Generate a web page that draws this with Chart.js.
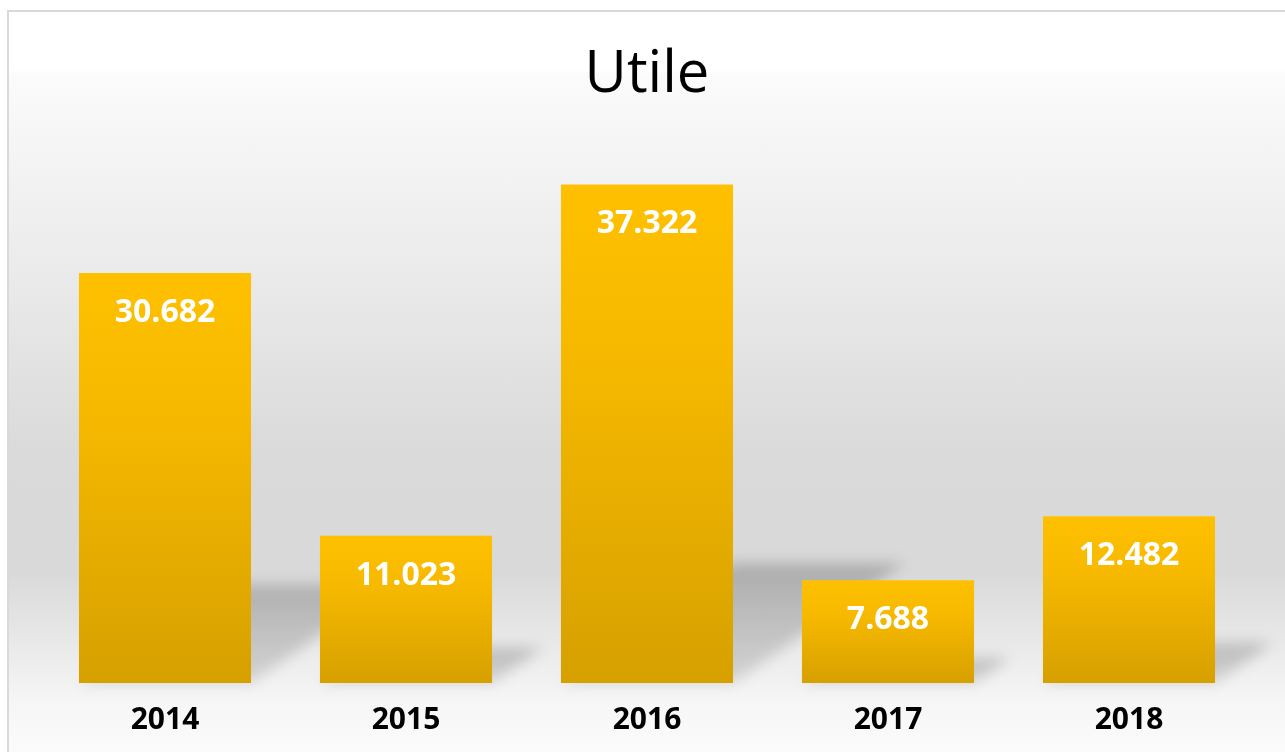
<!DOCTYPE html>
<html lang="it">
<head>
    <meta charset="UTF-8">
    <title>Utile</title>
    <style>
        html, body {
            margin: 0;
            padding: 0;
            width: 1285px;
            height: 752px;
            overflow: hidden;
            background: #ffffff;
        }

        #frame {
            position: absolute;
            left: 7px;
            top: 10px;
            width: 1300px;
            height: 760px;
            border-left: 2px solid #d9d9d9;
            border-top: 2px solid #d9d9d9;
            background: linear-gradient(to bottom,
                #ffffff 0px, #ffffff 58px, #fbfbfb 62px,
                #e8e8e8 290px, #dadada 440px, #d9d9d9 560px,
                #f6f6f6 690px, #fbfbfb 740px);
        }

        #chartBox {
            position: absolute;
            left: 0;
            top: 0;
            width: 1285px;
            height: 752px;
        }
    </style>
</head>
<body>

    <div id="frame"></div>

    <div id="chartBox">
        <canvas id="utileChart" width="1285" height="752"></canvas>
    </div>

    <script src="https://cdn.jsdelivr.net/npm/chart.js"></script>

    <script>
        // dati del grafico
        const anni = ['2014', '2015', '2016', '2017', '2018'];
        const utile = [30682, 11023, 37322, 7688, 12482];
        const titolo = 'Utile';

        // formato italiano con il punto per le migliaia
        function formatta(v) {
            return String(v).replace(/\B(?=(\d{3})+(?!\d))/g, '.');
        }

        // ombra inclinata dietro le barre
        const ombraBarre = {
            id: 'ombraBarre',
            beforeDatasetsDraw(chart) {
                const ctx = chart.ctx;
                const meta = chart.getDatasetMeta(0);
                ctx.save();
                ctx.filter = 'blur(7px)';
                meta.data.forEach(bar => {
                    const h = bar.base - bar.y;
                    const sh = h * 0.24;
                    const dx = sh * 1.43;
                    const left = bar.x - bar.width / 2;
                    const right = bar.x + bar.width / 2;
                    const grad = ctx.createLinearGradient(0, bar.base - sh, 0, bar.base);
                    grad.addColorStop(0, 'rgba(0,0,0,0.20)');
                    grad.addColorStop(1, 'rgba(0,0,0,0.12)');
                    ctx.fillStyle = grad;
                    ctx.beginPath();
                    ctx.moveTo(left, bar.base);
                    ctx.lineTo(right, bar.base);
                    ctx.lineTo(right + dx, bar.base - sh);
                    ctx.lineTo(left + dx, bar.base - sh);
                    ctx.closePath();
                    ctx.fill();
                });
                ctx.restore();
            }
        };

        // etichette dei valori dentro le barre
        const etichetteValori = {
            id: 'etichetteValori',
            afterDatasetsDraw(chart) {
                const ctx = chart.ctx;
                const meta = chart.getDatasetMeta(0);
                ctx.save();
                ctx.font = 'bold 32px "Open Sans"';
                ctx.fillStyle = '#ffffff';
                ctx.textAlign = 'center';
                ctx.textBaseline = 'middle';
                meta.data.forEach((bar, i) => {
                    ctx.fillText(formatta(utile[i]), bar.x, bar.y + 40);
                });
                ctx.restore();
            }
        };

        function coloreBarra(context) {
            const chart = context.chart;
            if (!chart.chartArea) {
                return '#f0b400';
            }
            const y = chart.scales.y;
            const top = y.getPixelForValue(context.raw);
            const bottom = y.getPixelForValue(0);
            const grad = chart.ctx.createLinearGradient(0, top, 0, bottom);
            grad.addColorStop(0, '#ffc000');
            grad.addColorStop(0.35, '#f6b900');
            grad.addColorStop(1, '#d6a000');
            return grad;
        }

        const ctx = document.getElementById('utileChart').getContext('2d');
        const utileChart = new Chart(ctx, {
            type: 'bar',
            data: {
                labels: anni,
                datasets: [{
                    label: titolo,
                    data: utile,
                    backgroundColor: coloreBarra,
                    borderWidth: 0,
                    barPercentage: 1,
                    categoryPercentage: 0.714
                }]
            },
            options: {
                responsive: false,
                animation: false,
                layout: {
                    padding: { left: 44.5, right: 35.5, top: 0, bottom: -5 }
                },
                plugins: {
                    legend: { display: false },
                    tooltip: { enabled: false },
                    title: {
                        display: true,
                        text: titolo,
                        color: '#000000',
                        font: { family: 'Open Sans', size: 58, weight: 'normal' },
                        padding: { top: 41, bottom: 38 }
                    }
                },
                scales: {
                    x: {
                        grid: { display: false, drawTicks: false },
                        border: { display: false },
                        ticks: {
                            color: '#000000',
                            padding: 19,
                            font: { family: 'Open Sans', size: 30, weight: 'bold' }
                        }
                    },
                    y: {
                        display: false,
                        min: 0,
                        max: 40000
                    }
                }
            },
            plugins: [ombraBarre, etichetteValori]
        });
    </script>
</body>
</html>
